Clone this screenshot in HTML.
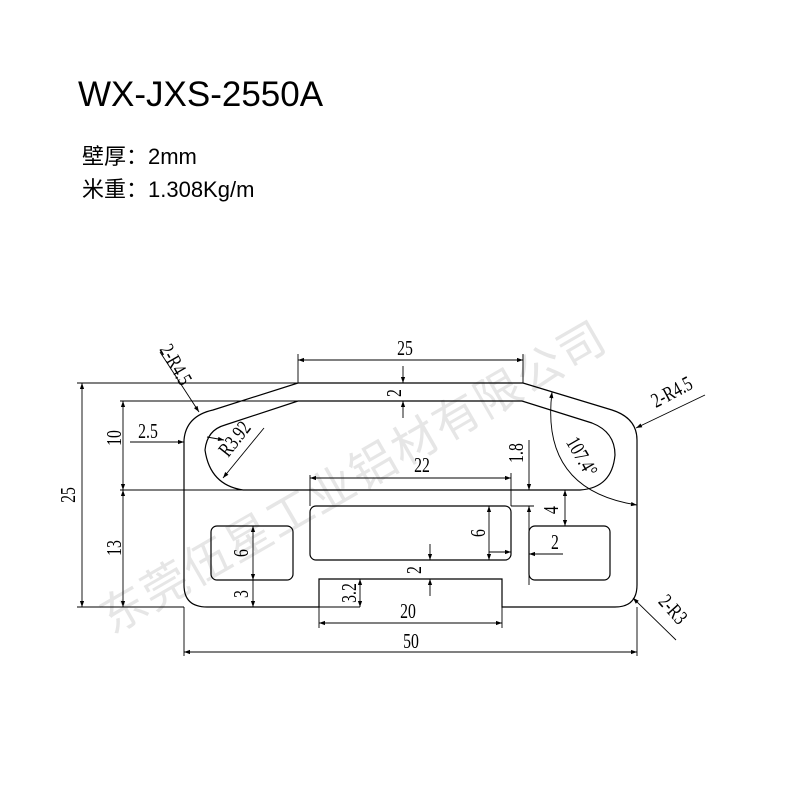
<!DOCTYPE html>
<html><head><meta charset="utf-8"><style>
html,body{margin:0;padding:0;background:#fff;width:800px;height:800px;overflow:hidden}
svg{display:block}
.t text{font-family:"Liberation Serif","Noto Serif CJK SC",serif;font-size:21px;fill:#000}
</style></head><body>
<svg width="800" height="800" viewBox="0 0 800 800" xmlns="http://www.w3.org/2000/svg">
<defs>
<marker id="a" viewBox="0 0 10 10" refX="10" refY="5" markerWidth="10" markerHeight="6" orient="auto-start-reverse" markerUnits="userSpaceOnUse"><path d="M0,1.5 L10,5 L0,8.5 z" fill="#000"/></marker>
</defs>
<text x="78" y="106" font-family="Liberation Sans,sans-serif" font-size="35" fill="#000">WX-JXS-2550A</text>
<text x="82" y="164" font-family="Liberation Sans,'Noto Sans CJK SC',sans-serif" font-size="22" fill="#000">壁厚：2mm</text>
<text x="82" y="197" font-family="Liberation Sans,'Noto Sans CJK SC',sans-serif" font-size="22" fill="#000">米重：1.308Kg/m</text>

<text x="0" y="0" transform="translate(112,635) rotate(-30)" font-family="'Noto Sans CJK SC',sans-serif" font-size="46" fill="#e6e6e6" letter-spacing="2">东莞伍星工业铝材有限公司</text>

<g fill="none" stroke="#000" stroke-width="1.2">
<path d="M298,383 L523,383 L612,410 Q637,418 637,440 L637,585 Q637,607 615,607 L502,607 L502,579 L319,579 L319,607 L207,607 Q184,607 184,585 L184,440 Q186,416 213,410 Z"/>
<path d="M298,401 L522,401 L592,423 Q615,432 615,455 Q612,488 580,490 L243,490 Q210,485 205,450 Q207,430 225,425 Z"/>
<rect x="310" y="506" width="201" height="54" rx="6"/>
<rect x="211" y="526" width="82" height="54" rx="6"/>
<rect x="529" y="526" width="81" height="54" rx="6"/>
</g>
<g fill="none" stroke="#000" stroke-width="0.9">
<line x1="298" y1="383" x2="298" y2="354"/><line x1="523" y1="383" x2="523" y2="354"/>
<line x1="77" y1="383" x2="298" y2="383"/><line x1="77" y1="607" x2="184" y2="607"/>
<line x1="120" y1="401" x2="298" y2="401"/><line x1="120" y1="490" x2="243" y2="490"/>
<line x1="184" y1="607" x2="184" y2="656"/><line x1="637" y1="607" x2="637" y2="656"/>
<line x1="319" y1="607" x2="319" y2="628"/><line x1="502" y1="607" x2="502" y2="628"/>
<line x1="310" y1="506" x2="310" y2="475"/><line x1="511" y1="506" x2="511" y2="473"/>
<line x1="511" y1="506" x2="534" y2="506"/>
<line x1="293" y1="607" x2="360" y2="607"/><line x1="360" y1="579" x2="367" y2="579"/>
<line x1="298" y1="360" x2="523" y2="360" marker-start="url(#a)" marker-end="url(#a)"/>
<line x1="82" y1="383" x2="82" y2="607" marker-start="url(#a)" marker-end="url(#a)"/>
<line x1="123" y1="401" x2="123" y2="490" marker-start="url(#a)" marker-end="url(#a)"/>
<line x1="123" y1="490" x2="123" y2="607" marker-start="url(#a)" marker-end="url(#a)"/>
<line x1="130" y1="442" x2="184" y2="442" marker-end="url(#a)"/>
<line x1="184" y1="652" x2="637" y2="652" marker-start="url(#a)" marker-end="url(#a)"/>
<line x1="319" y1="623" x2="502" y2="623" marker-start="url(#a)" marker-end="url(#a)"/>
<line x1="310" y1="478" x2="511" y2="478" marker-start="url(#a)" marker-end="url(#a)"/>
<line x1="403" y1="366" x2="403" y2="383" marker-end="url(#a)"/><line x1="403" y1="418" x2="403" y2="401" marker-end="url(#a)"/>
<line x1="529" y1="440" x2="529" y2="490" marker-end="url(#a)"/><line x1="529" y1="585" x2="529" y2="506" marker-end="url(#a)"/>
<line x1="565" y1="490" x2="565" y2="526" marker-start="url(#a)" marker-end="url(#a)"/>
<line x1="489" y1="506" x2="489" y2="560" marker-start="url(#a)" marker-end="url(#a)"/>
<line x1="489" y1="552" x2="511" y2="552" marker-end="url(#a)"/>
<line x1="563" y1="554" x2="529" y2="554" marker-end="url(#a)"/>
<line x1="430" y1="544" x2="430" y2="560" marker-end="url(#a)"/><line x1="430" y1="596" x2="430" y2="579" marker-end="url(#a)"/>
<line x1="253" y1="526" x2="253" y2="580" marker-start="url(#a)" marker-end="url(#a)"/>
<line x1="253" y1="580" x2="253" y2="607" marker-end="url(#a)"/>
<line x1="360" y1="579" x2="360" y2="607" marker-start="url(#a)" marker-end="url(#a)"/>
<path d="M552,392 Q540,490 637,505" marker-start="url(#a)" marker-end="url(#a)"/>
<line x1="160" y1="352" x2="199" y2="412" marker-end="url(#a)"/>
<line x1="705" y1="395" x2="636" y2="428" marker-end="url(#a)"/>
<line x1="676" y1="640" x2="633" y2="598" marker-end="url(#a)"/>
<line x1="264" y1="428" x2="223" y2="478" marker-end="url(#a)"/>
<line x1="207" y1="437" x2="224" y2="440" marker-end="url(#a)"/>
</g>
<g class="t">
<text transform="translate(405,355) scale(0.75,1)" text-anchor="middle">25</text>
<text transform="translate(401,393) rotate(-90) scale(0.75,1)" text-anchor="middle">2</text>
<text transform="translate(75,495) rotate(-90) scale(0.75,1)" text-anchor="middle">25</text>
<text transform="translate(121,438) rotate(-90) scale(0.75,1)" text-anchor="middle">10</text>
<text transform="translate(121,548) rotate(-90) scale(0.75,1)" text-anchor="middle">13</text>
<text transform="translate(148,438) scale(0.75,1)" text-anchor="middle">2.5</text>
<text transform="translate(411,648) scale(0.75,1)" text-anchor="middle">50</text>
<text transform="translate(408,618) scale(0.75,1)" text-anchor="middle">20</text>
<text transform="translate(422,472) scale(0.75,1)" text-anchor="middle">22</text>
<text transform="translate(523,453) rotate(-90) scale(0.75,1)" text-anchor="middle">1.8</text>
<text transform="translate(558,510) rotate(-90) scale(0.75,1)" text-anchor="middle">4</text>
<text transform="translate(485,533) rotate(-90) scale(0.75,1)" text-anchor="middle">6</text>
<text transform="translate(555,549) scale(0.75,1)" text-anchor="middle">2</text>
<text transform="translate(421,570) rotate(-90) scale(0.75,1)" text-anchor="middle">2</text>
<text transform="translate(248,553) rotate(-90) scale(0.75,1)" text-anchor="middle">6</text>
<text transform="translate(248,594) rotate(-90) scale(0.75,1)" text-anchor="middle">3</text>
<text transform="translate(356,593) rotate(-90) scale(0.75,1)" text-anchor="middle">3.2</text>
<text transform="translate(170,368) rotate(60) scale(0.75,1)" text-anchor="middle">2-R4.5</text>
<text transform="translate(675,398) rotate(-28) scale(0.75,1)" text-anchor="middle">2-R4.5</text>
<text transform="translate(668,614) rotate(48) scale(0.75,1)" text-anchor="middle">2-R3</text>
<text transform="translate(240,443) rotate(-52) scale(0.75,1)" text-anchor="middle">R3.92</text>
<text transform="translate(576,460) rotate(60) scale(0.75,1)" text-anchor="middle">107.4°</text>
</g>
</svg>
</body></html>
